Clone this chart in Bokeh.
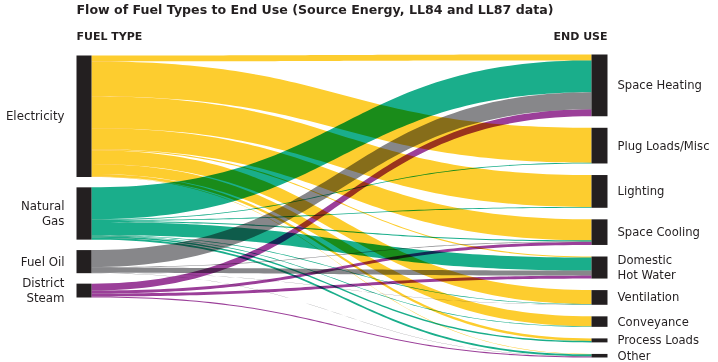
import numpy as np
from bokeh.plotting import figure
from bokeh.models import Range1d, CustomJS
from bokeh.core.properties import value
from bokeh.document import Document
from bokeh.embed import file_html
from bokeh.resources import INLINE

# ---------------- data ----------------
fuel_types = ["Electricity", "Natural Gas", "Fuel Oil", "District Steam"]
fuel_labels = ["Electricity", "Natural\nGas", "Fuel Oil", "District\nSteam"]
end_uses = ["Space Heating", "Plug Loads/Misc", "Lighting", "Space Cooling",
            "Domestic Hot Water", "Ventilation", "Conveyance", "Process Loads", "Other"]
end_use_labels = ["Space Heating", "Plug Loads/Misc", "Lighting", "Space Cooling",
                  "Domestic\nHot Water", "Ventilation", "Conveyance", "Process Loads", "Other"]

# share of source energy (%) from each fuel type to each end use (order of end_uses)
electricity = [2.8, 16.6, 15.2, 10.0, 0.5, 6.6, 4.7, 1.2, 0.2]
natural_gas = [15.2, 0.4, 0.4, 0.5, 6.2, 0.3, 0.3, 0.7, 0.9]
fuel_oil = [8.1, 0.0, 0.0, 0.3, 2.4, 0.1, 0.0, 0.0, 0.1]
district_steam = [3.3, 0.0, 0.0, 1.4, 1.4, 0.0, 0.0, 0.0, 0.5]

fuel_colors = ["#fdcd2f", "#1aae8b", "#87878a", "#9b3f99"]
node_color = "#231f20"
text_color = "#231f20"
FONT = "DejaVu Sans"

title = "Flow of Fuel Types to End Use (Source Energy, LL84 and LL87 data)"

# ---------------- layout ----------------
flows = np.array([electricity, natural_gas, fuel_oil, district_steam])
src_tot = flows.sum(axis=1)
tgt_tot = flows.sum(axis=0)

K = 2.1                      # px per percent
XL0, XL1 = 76, 91            # left node bar
XR0, XR1 = 591, 607          # right node bar
LEFT_TOP, LEFT_BOTTOM = 55, 297
RIGHT_TOP, RIGHT_BOTTOM = 54, 357

gap_l = (LEFT_BOTTOM - LEFT_TOP - src_tot.sum() * K) / (len(src_tot) - 1)
gap_r = (RIGHT_BOTTOM - RIGHT_TOP - tgt_tot.sum() * K) / (len(tgt_tot) - 1)

src_y0 = [LEFT_TOP + src_tot[:i].sum() * K + i * gap_l for i in range(len(src_tot))]
tgt_y0 = [RIGHT_TOP + tgt_tot[:j].sum() * K + j * gap_r for j in range(len(tgt_tot))]

p = figure(width=718, height=362, x_range=Range1d(0, 718), y_range=Range1d(362, 0),
           x_axis_type=None, y_axis_type=None, toolbar_location=None,
           output_backend="svg", min_border=0, outline_line_color=None,
           background_fill_color="white", border_fill_color="white")
p.grid.visible = False

# link polygons (cubic bezier bands)
t = np.linspace(0, 1, 80)
b0 = (1 - t) ** 3 + 3 * (1 - t) ** 2 * t
b1 = 3 * (1 - t) * t ** 2 + t ** 3
xm = (XL1 + XR0) / 2
bx = XL1 * (1 - t) ** 3 + 3 * xm * (1 - t) ** 2 * t + 3 * xm * (1 - t) * t ** 2 + XR0 * t ** 3

src_off = [0.0] * len(src_tot)
tgt_off = [0.0] * len(tgt_tot)
link_pos = {}
for i in range(flows.shape[0]):
    for j in range(flows.shape[1]):
        link_pos[(i, j)] = [src_y0[i] + src_off[i], None]
        src_off[i] += flows[i, j] * K
for j in range(flows.shape[1]):
    for i in range(flows.shape[0]):
        link_pos[(i, j)][1] = tgt_y0[j] + tgt_off[j]
        tgt_off[j] += flows[i, j] * K

for i in range(flows.shape[0]):
    xs, ys = [], []
    for j in range(flows.shape[1]):
        v = flows[i, j]
        if v <= 0:
            continue
        w = v * K
        ya, yb = link_pos[(i, j)]
        top = ya * b0 + yb * b1
        bot = (ya + w) * b0 + (yb + w) * b1
        xs.append(np.concatenate([bx, bx[::-1]]).tolist())
        ys.append(np.concatenate([top, bot[::-1]]).tolist())
    p.patches(xs, ys, fill_color=fuel_colors[i], line_color=None)

# node bars
p.quad(left=[XL0] * len(src_tot), right=[XL1] * len(src_tot),
       top=src_y0, bottom=[y + v * K for y, v in zip(src_y0, src_tot)],
       fill_color=node_color, line_color=None)
p.quad(left=[XR0] * len(tgt_tot), right=[XR1] * len(tgt_tot),
       top=tgt_y0, bottom=[y + v * K for y, v in zip(tgt_y0, tgt_tot)],
       fill_color=node_color, line_color=None)

# labels
p.text(x=[XL0 - 12] * len(src_tot), y=[y + v * K / 2 for y, v in zip(src_y0, src_tot)],
       text=fuel_labels, text_align="right", text_baseline="middle",
       text_font=value(FONT), text_font_size="11.8px",
       text_color=text_color, text_line_height=1.02)
p.text(x=[XR1 + 10] * len(tgt_tot), y=[y + v * K / 2 for y, v in zip(tgt_y0, tgt_tot)],
       text=end_use_labels, text_align="left", text_baseline="middle",
       text_font=value(FONT), text_font_size="11.6px",
       text_color=text_color, text_line_height=1.02)

p.text(x=[XL0], y=[9], text=[title], text_align="left", text_baseline="alphabetic",
       text_font=value(FONT), text_font_size="12.6px", text_font_style="bold",
       text_color=text_color)
p.text(x=[XL0, XR1], y=[36, 36], text=["FUEL TYPE", "END USE"],
       text_align=["left", "right"], text_baseline="alphabetic",
       text_font=value(FONT), text_font_size="11px", text_font_style="bold",
       text_color=text_color)

# multiply blending of overlapping flows (as in the printed original)
JS = """
const blend = () => {
  const walk = (root) => {
    root.querySelectorAll('path').forEach((el) => { el.style.mixBlendMode = 'multiply'; });
    root.querySelectorAll('*').forEach((el) => { if (el.shadowRoot) walk(el.shadowRoot); });
  };
  walk(document);
};
blend();
setInterval(blend, 100);
"""
doc = Document()
doc.add_root(p)
doc.js_on_event("document_ready", CustomJS(code=JS))

open("out.html", "w").write(file_html(p, INLINE))
